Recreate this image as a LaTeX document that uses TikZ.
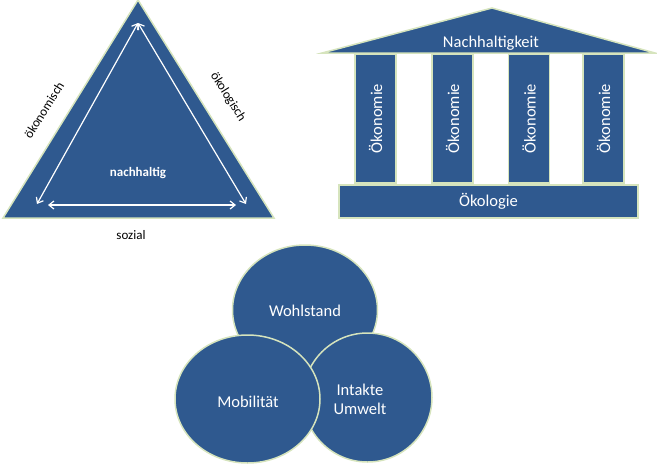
\documentclass[tikz,border=0pt]{standalone}
\usepackage{fontspec}
\setmainfont{Carlito}
\usetikzlibrary{arrows.meta,shapes.geometric}
\definecolor{blau}{RGB}{47,89,143}
\definecolor{rand}{RGB}{214,228,189}
\tikzset{
  flaeche/.style={fill=blau, draw=rand, line width=1.5pt},
  pfeil/.style={white, line width=1.2pt, {Straight Barb[length=5pt,width=8pt]}-{Straight Barb[length=5pt,width=8pt]}},
  klein/.style={font=\fontsize{13}{15}\selectfont},
  gross/.style={font=\fontsize{16.5}{19}\selectfont, text=white},
  saeule/.style={flaeche, minimum width=41pt, minimum height=129pt, inner sep=0pt},
  kreis/.style={flaeche, ellipse, inner sep=0pt, align=center, gross}
}
\begin{document}
\begin{tikzpicture}[x=1pt,y=-1pt]
\useasboundingbox (0,0) rectangle (657,475);
% Dreieck
\draw[flaeche] (3,218) -- (138,0) -- (274,218) -- cycle;
\coordinate (oben) at (138,23);
\coordinate (links) at (37,204);
\coordinate (rechts) at (246,204);
\coordinate (ul) at (48,205);
\coordinate (ur) at (236,205);
\draw[pfeil] (links) -- (oben);
\draw[pfeil] (rechts) -- (oben);
\draw[pfeil] (ul) -- (ur);
\node[klein, text=white, font=\fontsize{13}{15}\selectfont\bfseries] (nachhaltig) at (138,173) {nachhaltig};
\node[klein, rotate=58] (oekonomisch) at (44,110) {ökonomisch};
\node[klein, rotate=-58] (oekologisch) at (228,97) {ökologisch};
\node[klein] (sozial) at (131,235) {sozial};

% Tempel
\draw[flaeche] (322,53) -- (492,8) -- (655,53) -- cycle;
\node[gross] (dach) at (491,43) {Nachhaltigkeit};
\foreach \x/\n in {375.5/1,452.5/2,529/3,603.5/4}
  \node[saeule] (saeule\n) at (\x,118.5) {};
\foreach \n in {1,...,4}
  \node[gross, rotate=90] at (saeule\n) {Ökonomie};
\node[flaeche, minimum width=299pt, minimum height=33pt, inner sep=0pt, gross] (basis) at (488.5,201.5) {Ökologie};

% Kreise
\node[kreis, minimum width=145pt, minimum height=130pt] (wohlstand) at (305,310) {};
\node[kreis, minimum width=129pt, minimum height=129pt] (umwelt) at (367.5,397.5) {};
\node[kreis, minimum width=145pt, minimum height=128pt] (mobil) at (247.5,399) {};
\node[gross] at (305,311) {Wohlstand};
\node[gross, align=center] at (360,399) {Intakte\\Umwelt};
\node[gross] at (248,402) {Mobilität};
\end{tikzpicture}
\end{document}
